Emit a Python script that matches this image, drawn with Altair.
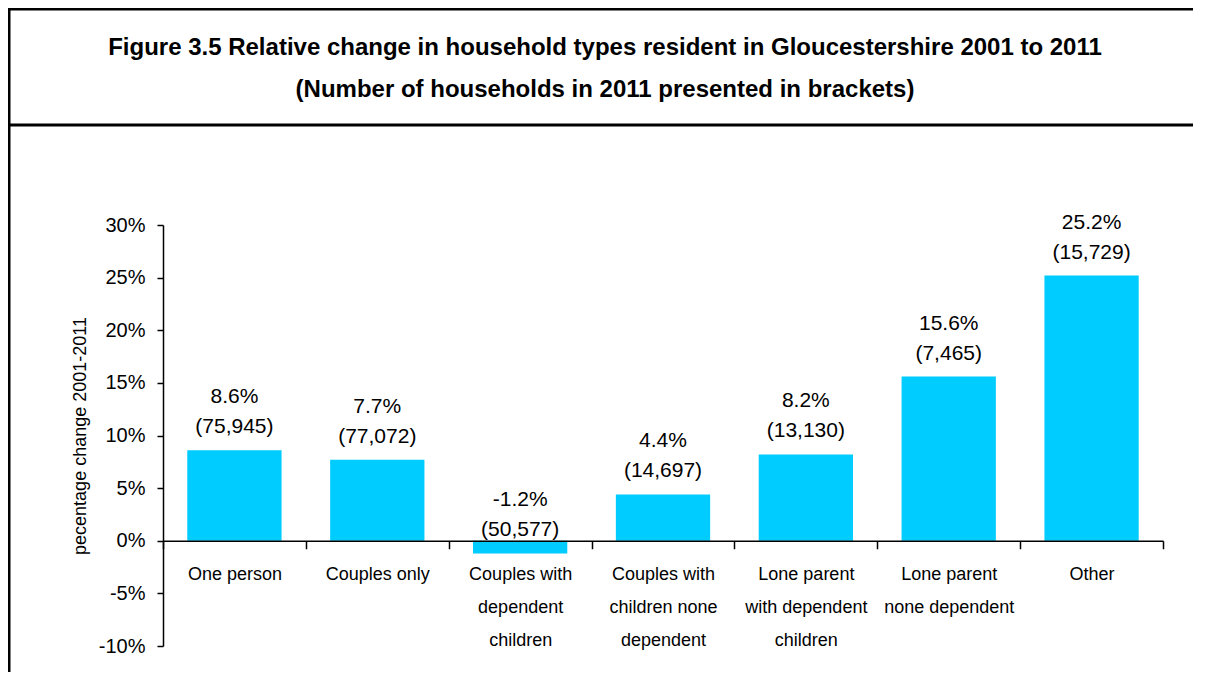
import altair as alt
import pandas as pd

# ---- data ----
categories = [
    "One person",
    "Couples only",
    "Couples with\ndependent\nchildren",
    "Couples with\nchildren none\ndependent",
    "Lone parent\nwith dependent\nchildren",
    "Lone parent\nnone dependent",
    "Other",
]
pct_change = [8.6, 7.7, -1.2, 4.4, 8.2, 15.6, 25.2]
households = [75945, 77072, 50577, 14697, 13130, 7465, 15729]
y_ticks = [-10, -5, 0, 5, 10, 15, 20, 25, 30]
title_line1 = "Figure 3.5 Relative change in household types resident in Gloucestershire 2001 to 2011"
title_line2 = "(Number of households in 2011 presented in brackets)"
y_title = "pecentage change 2001-2011"

# ---- layout ----
W, H = 1000, 421
PAD_L, PAD_T, PAD_R, PAD_B = 155, 217, 30, 26
YMIN, YMAX = -10, 30
zero_offset = -H * (0 - YMIN) / (YMAX - YMIN)
FONT = "Liberation Sans"
BAR = "#00CCFF"

df = pd.DataFrame({"cat": categories, "pct": pct_change, "n": households})

base = alt.Chart(df).transform_calculate(
    pct_label="(datum.pct < 0 ? '-' : '') + format(abs(datum.pct), '.1f') + '%'",
    n_label="'(' + format(datum.n, ',') + ')'",
)

xenc = alt.X(
    "cat:N",
    sort=categories,
    scale=alt.Scale(paddingInner=0, paddingOuter=0),
    axis=alt.Axis(
        title=None,
        labelExpr="split(datum.label, '\\n')",
        labelAngle=0,
        labelFont=FONT,
        labelFontSize=18,
        labelColor="black",
        labelLineHeight=33,
        labelPadding=17,
        labelBaseline="top",
        tickBand="extent",
        tickSize=8,
        tickColor="black",
        tickWidth=1.5,
        domainColor="black",
        domainWidth=1.5,
        offset=zero_offset,
        zindex=2,
    ),
)

bars = base.mark_bar(color=BAR, width=alt.RelativeBandSize(0.66)).encode(
    x=xenc,
    y=alt.Y(
        "pct:Q",
        scale=alt.Scale(domain=[YMIN, YMAX], nice=False, zero=False),
        axis=alt.Axis(
            values=y_ticks,
            labelExpr="datum.value + '%'",
            labelFont=FONT,
            labelFontSize=20,
            labelColor="black",
            labelPadding=12,
            tickSize=6,
            tickColor="black",
            tickWidth=1.5,
            domainColor="black",
            domainWidth=1.5,
            grid=False,
            title=y_title,
            titleFont=FONT,
            titleFontSize=18,
            titleFontWeight="normal",
            titleColor="black",
            titleAngle=270,
            titleX=-83,
            titleY=H / 2,
            titleAlign="center",
            titleBaseline="middle",
            zindex=2,
        ),
    ),
)

pct_text = base.mark_text(
    font=FONT, fontSize=21, color="black", baseline="alphabetic", dy=-47
).encode(
    x=alt.X("cat:N", sort=categories),
    y=alt.Y("pct:Q"),
    text="pct_label:N",
)

n_text = base.mark_text(
    font=FONT, fontSize=21, color="black", baseline="alphabetic", dy=-17
).encode(
    x=alt.X("cat:N", sort=categories),
    y=alt.Y("pct:Q"),
    text="n_label:N",
)

one = alt.Data(values=[{"k": 1}])


def title_text(txt, page_y):
    return alt.Chart(one).mark_text(
        font=FONT,
        fontSize=24,
        fontWeight="bold",
        color="black",
        align="center",
        baseline="middle",
    ).encode(
        x=alt.value(605 - 8 - PAD_L),
        y=alt.value(page_y - 8 - PAD_T),
        text=alt.value(txt),
    )


t1 = title_text(title_line1, 48)
t2 = title_text(title_line2, 90)

frame_left = alt.Chart(one).mark_rule(color="black", strokeWidth=3).encode(
    x=alt.value(-PAD_L + 1), y=alt.value(-PAD_T), y2=alt.value(H + PAD_B)
)
frame_top = alt.Chart(one).mark_rule(color="black", strokeWidth=3).encode(
    x=alt.value(-PAD_L), x2=alt.value(W + PAD_R), y=alt.value(-PAD_T + 1)
)
frame_sep = alt.Chart(one).mark_rule(color="black", strokeWidth=3).encode(
    x=alt.value(-PAD_L), x2=alt.value(W + PAD_R), y=alt.value(125 - 8 - PAD_T)
)

chart = (
    alt.layer(bars, pct_text, n_text, t1, t2, frame_left, frame_top, frame_sep)
    .properties(
        width=W,
        height=H,
        padding={"left": PAD_L, "top": PAD_T, "right": PAD_R, "bottom": PAD_B},
        autosize=alt.AutoSizeParams(type="none"),
        background="white",
    )
    .configure_view(stroke=None)
)

chart.save("out.html", embed_options={"renderer": "svg", "actions": False})
